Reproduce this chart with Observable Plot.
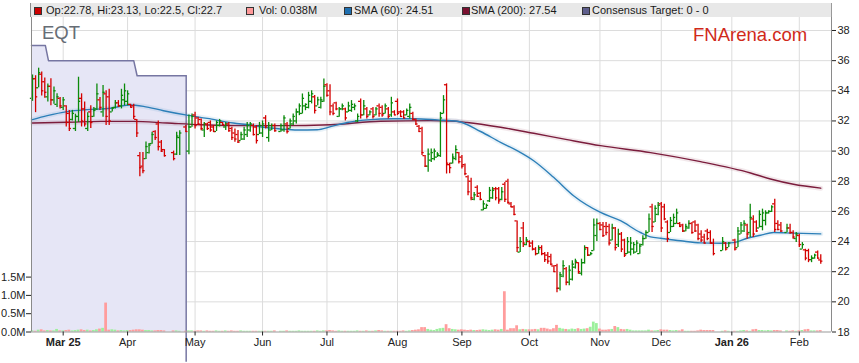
<!DOCTYPE html>
<html><head><meta charset="utf-8">
<script src="https://cdn.jsdelivr.net/npm/d3@7"></script>
<script src="https://cdn.jsdelivr.net/npm/@observablehq/plot@0.6"></script>
<style>
html,body{margin:0;padding:0;background:#fff;}
#wrap{position:relative;width:859px;height:363px;font-family:"Liberation Sans",Arial,sans-serif;overflow:hidden;}
#wrap svg{position:absolute;left:0;top:0;}
.band{position:absolute;left:30px;top:3px;width:800px;height:14px;background:#e8e8e8;border-left:1px solid #8a8a8a;border-right:1px solid #9a9a9a;}
.lg{position:absolute;top:3px;height:14px;line-height:14px;font-size:11px;color:#1a1a1a;white-space:nowrap;}
.sw{position:absolute;top:6.5px;width:6px;height:6px;border:1px solid #333;}
.ttl{position:absolute;font-size:18.5px;line-height:19px;white-space:nowrap;}
</style></head>
<body><div id="wrap"></div>
<script>
// Weekday index 0 = Mon 17 Feb 2025 (ASX: EQT). null = exchange holiday.
const open = [
33.5,34.8,34.2,35.1,34.6,33.6,34.3,33.4,33.1,33.5,
32.9,33.0,32.5,32.1,31.5,32.3,33.5,32.8,31.5,32.6,
32.3,32.8,33.4,32.6,33.8,33.6,32.6,32.9,33.2,33.0,
33.4,33.3,33.1,33.0,32.1,29.7,29.0,29.5,29.9,30.5,
31.3,31.8,30.6,30.1,null,null,29.9,29.8,30.9,null,
31.6,30.0,31.6,32.4,32.2,32.1,31.4,31.8,31.9,31.6,
31.3,31.7,31.9,31.6,31.8,31.5,31.2,31.1,30.7,30.8,
31.1,31.4,31.7,31.6,31.1,31.2,32.2,30.9,31.4,31.7,
null,31.3,31.4,31.8,31.5,31.8,32.0,32.6,32.5,33.0,
32.9,33.3,33.6,33.0,32.9,33.3,34.4,34.0,33.0,33.2,
32.3,32.8,32.8,32.6,32.7,32.9,32.0,33.3,32.4,32.8,
32.4,32.8,32.4,33.0,32.9,32.5,32.8,32.4,32.6,33.3,
32.6,32.6,32.4,32.3,32.5,32.1,31.65,31.5,29.7,29.0,
29.4,29.5,29.6,29.7,32.5,34.4,29.1,29.2,29.5,29.9,
29.6,29.1,28.3,28.0,26.8,27.6,27.2,26.1,26.2,26.7,
26.9,27.5,27.5,26.8,27.8,28.0,26.5,26.3,25.37,23.3,
24.9,23.8,24.0,23.9,23.5,23.2,23.6,23.2,23.1,23.0,
22.38,22.4,20.9,21.7,22.2,21.3,21.5,22.3,22.6,21.9,
22.6,23.6,23.1,23.4,24.4,25.2,25.1,25.0,25.0,24.1,
24.9,23.8,24.5,24.1,23.2,23.3,23.5,23.3,23.2,23.8,
24.2,24.6,26.3,25.3,25.8,26.5,26.3,25.3,24.6,25.0,
25.2,25.2,25.1,24.7,24.9,25.2,25.3,25.1,24.5,24.3,
24.7,24.6,23.9,null,null,23.4,23.9,23.6,null,24.1,
23.6,24.5,24.7,25.1,24.6,25.5,25.3,24.9,25.0,25.4,
25.9,26.0,26.5,25.2,25.1,null,24.6,24.9,24.6,24.2,
24.4,23.5,23.45,23.4,22.8,22.9,23.3,22.78];
const high = [
35.05,35.0,35.5,35.25,34.85,34.45,34.8,34.25,33.8,33.55,
33.55,33.0,32.7,32.7,32.45,34.9,33.8,33.25,32.55,33.0,
32.9,34.45,33.55,34.35,34.0,34.1,32.9,33.35,33.35,34.1,
34.45,34.0,33.1,33.1,32.1,29.9,29.9,30.6,30.5,31.25,
31.35,32.0,30.7,30.1,null,null,30.0,31.25,31.35,null,
31.7,32.4,32.46,32.57,32.25,32.13,31.9,31.85,32.0,31.7,
32.0,32.1,31.9,31.9,31.9,31.58,31.47,31.36,31.25,31.58,
31.9,31.9,31.8,31.7,31.9,32.0,32.35,31.9,31.8,31.8,
null,31.8,32.35,31.9,32.13,32.46,32.8,33.13,33.79,33.13,
33.9,34.0,33.68,33.57,33.57,34.79,34.46,34.4,33.13,33.24,
32.9,33.13,32.85,33.24,33.35,33.13,32.46,33.46,33.35,32.9,
32.68,32.9,32.9,33.13,33.0,33.13,32.9,33.57,32.68,33.46,
32.68,32.68,32.8,33.13,32.57,32.13,31.69,31.58,29.7,30.14,
30.14,30.14,29.9,32.57,33.68,34.46,29.2,29.8,30.36,29.9,
29.7,29.14,28.36,28.2,27.26,27.7,27.26,26.7,26.48,27.59,
27.59,27.59,27.59,27.59,27.92,28.14,26.59,26.37,25.37,24.27,
25.26,24.27,24.05,24.05,23.6,23.72,23.72,23.27,23.27,23.16,
22.4,22.5,21.94,22.72,22.28,22.39,22.72,22.83,22.6,22.83,
23.72,23.6,23.27,25.5,25.5,25.26,25.26,25.26,25.15,25.15,
24.93,24.82,24.6,24.16,24.27,24.27,23.93,24.05,23.83,24.38,
24.71,25.82,26.48,26.37,26.59,26.59,26.48,25.38,25.6,25.82,
26.15,25.26,25.15,25.15,25.38,25.26,25.38,25.15,24.71,24.49,
24.82,24.71,24.16,null,null,24.27,23.93,23.93,null,24.16,
24.93,25.26,25.38,25.15,26.48,25.71,25.38,26.04,26.15,26.04,
26.04,26.37,26.81,25.38,25.26,null,25.15,25.15,24.71,24.6,
24.49,23.93,23.49,23.49,23.05,23.16,23.38,23.13];
const low = [
33.3,32.55,34.2,33.65,33.5,33.25,33.0,33.1,32.9,32.8,
32.7,31.6,31.3,32.0,31.3,31.9,31.6,31.6,31.3,31.5,
32.25,32.7,32.7,32.25,31.7,31.7,32.6,32.8,32.9,32.8,
33.0,33.0,32.9,32.1,30.9,28.3,28.5,29.45,29.8,30.45,
30.7,30.0,29.9,29.6,null,null,29.35,29.7,29.7,null,
31.25,29.75,31.58,31.47,31.7,31.35,30.9,31.36,31.25,31.25,
31.3,31.6,31.7,31.36,31.25,30.7,30.58,30.5,30.7,30.7,
30.9,31.25,31.0,30.47,31.1,30.9,31.47,30.58,31.36,31.25,
null,31.25,31.25,31.13,31.47,31.69,31.8,32.35,32.46,32.68,
32.8,33.13,32.46,33.0,32.8,33.24,33.57,32.35,32.35,32.68,
32.24,32.68,32.0,32.57,32.57,32.68,31.9,32.13,32.35,32.13,
32.35,32.13,32.35,32.24,32.24,32.46,32.13,32.24,32.35,32.35,
32.24,32.13,32.35,32.13,32.02,31.69,31.25,29.7,28.92,28.59,
29.25,29.36,29.58,29.58,32.46,28.48,28.5,29.14,29.36,29.14,
28.81,28.36,27.04,26.7,26.7,26.93,26.7,26.04,26.15,26.59,
26.8,26.7,26.48,26.7,26.59,26.48,26.26,25.71,23.27,23.27,
23.6,23.72,23.6,23.38,23.05,23.16,23.05,22.61,22.5,22.39,
21.94,20.61,20.72,21.6,21.06,21.06,21.39,22.17,21.83,21.72,
22.5,23.0,23.05,23.38,24.0,24.71,24.27,24.38,23.71,24.05,
23.38,23.6,23.27,22.94,23.16,23.05,23.16,23.27,23.16,23.71,
24.16,24.6,24.6,25.26,25.71,24.6,25.38,23.93,24.6,24.93,
25.15,24.93,24.6,24.65,24.82,24.49,24.6,24.05,23.93,23.83,
24.05,23.83,23.05,null,null,23.38,23.38,23.6,null,23.38,
23.6,24.49,24.6,24.16,24.27,24.27,24.6,24.9,24.71,25.04,
25.82,25.93,24.6,24.71,24.6,null,24.6,24.49,24.16,23.93,
23.6,23.49,22.72,22.6,22.6,22.83,22.83,22.5];
const close = [
34.8,33.6,35.2,34.0,33.9,34.3,33.4,34.0,33.6,33.0,
33.4,31.9,31.5,32.5,32.3,33.3,32.0,31.8,32.3,31.9,
32.7,33.8,32.9,33.9,32.3,32.0,32.85,33.2,33.0,33.7,
34.0,33.8,32.9,32.3,31.2,28.9,28.7,30.3,30.4,31.1,
30.9,30.3,30.0,29.7,null,null,29.5,31.0,31.2,null,
31.3,31.6,32.3,31.7,31.8,31.5,31.8,31.5,31.4,31.3,
31.9,32.0,31.75,31.8,31.35,30.9,30.8,30.6,31.1,31.4,
31.7,31.8,31.1,30.7,31.7,31.8,31.6,31.7,31.7,31.35,
null,31.7,32.2,31.3,32.0,32.3,32.6,33.0,33.5,33.1,
33.7,33.8,32.7,33.4,33.4,34.3,33.7,32.6,32.5,32.8,
32.8,33.0,32.2,33.0,33.1,33.0,32.3,32.4,33.0,32.3,
32.6,32.3,32.8,32.5,32.4,33.0,32.3,33.2,32.4,32.5,
32.3,32.2,32.7,32.9,32.1,31.8,31.3,29.9,29.0,29.8,
29.9,30.0,29.8,32.2,33.4,29.2,28.9,29.6,30.1,29.3,
29.0,28.5,27.3,26.9,27.1,27.0,26.8,26.5,26.4,27.4,
27.4,26.9,26.7,27.3,26.8,26.6,26.3,25.8,23.6,24.0,
23.9,24.1,23.7,23.5,23.2,23.5,23.2,22.8,22.7,22.5,
22.0,20.9,21.8,22.4,21.3,22.1,22.5,22.7,22.0,22.6,
23.5,23.1,23.2,25.1,25.2,24.8,24.4,24.6,23.9,24.9,
23.6,24.5,23.5,23.1,24.0,23.9,23.8,23.9,23.7,24.2,
24.6,25.5,25.0,26.2,26.4,24.9,25.5,24.2,25.4,25.6,
25.9,25.0,24.7,25.0,25.2,24.6,24.7,24.2,24.1,23.9,
24.2,23.9,23.2,null,null,24.0,23.5,23.9,null,23.5,
24.7,25.1,25.2,24.5,25.6,24.5,24.7,25.8,25.9,25.9,
26.0,26.3,24.8,24.8,24.7,null,24.9,24.6,24.3,24.5,
23.8,23.8,22.9,22.8,22.9,23.1,22.9,22.7];
// volume, millions of shares
const volume = [
0.03,0.02,0.05,0.06,0.03,0.04,0.03,0.03,0.07,0.03,
0.03,0.04,0.05,0.03,0.04,0.05,0.06,0.04,0.05,0.03,0.04,0.06,0.08,0.10,0.79,0.05,0.06,0.05,0.03,0.04,0.03,
0.04,0.04,0.05,0.06,0.06,0.05,0.04,0.04,0.03,0.03,0.04,0.04,0.03,null,null,0.03,0.03,0.02,null,0.02,0.03,0.03,
0.02,0.03,0.03,0.02,0.03,0.02,0.02,0.03,0.02,0.02,0.03,0.02,0.03,0.02,0.02,0.03,0.02,0.02,0.02,0.02,0.02,0.02,
0.02,0.02,0.02,0.02,0.03,null,0.02,0.02,0.03,0.02,0.02,0.02,0.03,0.02,0.02,0.02,0.02,0.02,0.03,0.02,0.03,
0.03,0.04,0.03,0.02,0.03,0.02,0.02,0.02,0.02,0.02,0.03,0.02,0.02,0.03,0.02,0.02,0.03,0.04,0.03,0.02,0.02,0.02,0.02,
0.02,0.02,0.03,0.02,0.03,0.04,0.05,0.06,0.12,0.12,0.07,0.05,0.04,0.07,0.09,0.10,0.20,0.09,0.07,0.06,0.05,
0.06,0.05,0.04,0.05,0.04,0.04,0.05,0.06,0.05,0.04,0.05,0.06,0.05,0.07,1.10,0.05,0.09,0.09,0.17,0.06,0.07,0.06,
0.06,0.06,0.07,0.06,0.10,0.10,0.08,0.06,0.09,0.18,0.10,0.08,0.07,0.06,0.08,0.07,0.09,0.07,0.08,0.09,0.13,0.27,0.23,
0.08,0.05,0.05,0.06,0.07,0.15,0.12,0.07,0.06,0.07,0.05,0.03,0.03,0.03,0.03,0.03,0.05,0.03,0.03,0.04,
0.06,0.05,0.05,0.04,0.03,0.04,0.03,0.06,0.02,0.02,0.02,0.02,0.03,0.05,0.04,0.04,0.04,0.04,null,null,0.02,0.03,0.02,
null,0.02,0.02,0.03,0.04,0.03,0.02,0.06,0.07,0.04,0.04,0.03,0.04,0.03,0.04,0.04,0.03,null,0.03,0.02,0.03,0.02,
0.03,0.04,0.06,0.07,0.03,0.03,0.03,0.038];
const sma60Idx = [0,4.8,11.3,17.8,25.4,31.4,36.2,42.7,49.9,57,65.5,71.1,75.3,80.9,86.3,92.8,97.2,102.6,109.1,117.7,124.2,132,138.5,146.1,152.6,158,163.4,169.9,176.4,185.2,191.7,198.2,201.5,204.8,211.3,217.8,224.3,228.6,233,237.4,241.6,248.1,257];
const sma60Val = [32.09,32.35,32.62,32.75,32.84,33.06,32.97,32.68,32.4,32.17,31.86,31.73,31.58,31.47,31.4,31.42,31.62,31.9,32.07,32.15,32.15,32.07,31.98,31.3,30.58,30.03,29.36,28.26,27.04,25.93,25.38,24.6,24.31,24.22,24.05,23.91,23.89,23.93,24.22,24.42,24.6,24.56,24.51];
const sma200Idx = [0,11.3,22.2,32.9,43.9,54.8,71.1,80.9,97.2,113.5,129.8,136.3,141.7,152.6,163.4,174.3,185.2,201.5,217.8,234.1,240.6,248.1,257];
const sma200Val = [31.86,31.91,31.97,31.97,31.86,31.75,31.69,31.69,31.75,31.98,32.02,32.0,31.9,31.58,31.18,30.76,30.36,29.9,29.3,28.55,28.15,27.8,27.54];
const targetIdx = [-0.33,4.2,5.2,33.0,34.1,50.1];
const targetVal = [37,37,36,36,35,35];
const priceTicks = [18,20,22,24,26,28,30,32,34,36,38];
const volTicks = [0,0.5,1.0,1.5];
const monthIdx = [10,31,53,75,96,119,140,162,185,205,228,250];
const monthLab = ["Mar 25","Apr","May","Jun","Jul","Aug","Sep","Oct","Nov","Dec","Jan 26","Feb"];

const X0 = -0.33, X1 = 260.5, Y0 = 18, Y1 = 38.862;
const K = 2.428; // price units per 1M shares (volume panel shares the price axis)
const vy = v => Y0 + v * K;
const UP = "#0b8a0b", DN = "#d40000";

const rows = open.map((o,i)=> o==null ? null : {i, o, h: high[i], l: low[i], c: close[i]}).filter(Boolean);
const upRows = rows.filter(d => d.c >= d.o), dnRows = rows.filter(d => d.c < d.o);
const vrows = volume.map((v,i)=> v==null ? null : {i, v, up: close[i] >= open[i]}).filter(Boolean);
const sma60 = sma60Idx.map((i,k)=>({i, v: sma60Val[k]}));
const sma200 = sma200Idx.map((i,k)=>({i, v: sma200Val[k]}));
const target = targetIdx.map((i,k)=>({i, v: targetVal[k]}));
const lastT = target[target.length-1];

function ohlc(data, color){
  return [
    Plot.ruleX(data, {x:"i", y1:"l", y2:"h", stroke: color, strokeWidth: 1.3}),
    Plot.ruleY(data, {y:"o", x1: d => d.i - 0.7, x2: "i", stroke: color, strokeWidth: 1.3}),
    Plot.ruleY(data, {y:"c", x1: "i", x2: d => d.i + 0.7, stroke: color, strokeWidth: 1.3})
  ];
}
const labelOf = d => monthLab[monthIdx.indexOf(d)];
const boldIdx = monthIdx.filter((d,k) => /\d/.test(monthLab[k]));
const normIdx = monthIdx.filter((d,k) => !/\d/.test(monthLab[k]));

const chart = Plot.plot({
  width: 859, height: 363,
  marginLeft: 31, marginRight: 28, marginTop: 17, marginBottom: 31.5,
  x: {domain: [X0, X1], axis: null},
  y: {domain: [Y0, Y1], axis: null},
  style: {fontFamily: "Liberation Sans, Arial, sans-serif", fontSize: "11px", background: "transparent", overflow: "visible", color: "#1a1a1a"},
  marks: [
    Plot.ruleY(priceTicks.filter(p => p > Y0), {stroke: "#dcdcdc"}),
    Plot.ruleX(monthIdx, {y1: Y0, y2: Y1, stroke: "#dcdcdc"}),
    Plot.areaY(target, {x: "i", y1: Y0, y2: "v", fill: "#e6e6f6", curve: "linear"}),
    Plot.line(target, {x: "i", y: "v", stroke: "#7676a2", strokeWidth: 1.5, curve: "linear"}),
    Plot.ruleX([lastT], {x: "i", y1: "v", y2: 16, stroke: "#7676a2", strokeWidth: 1.5}),
    Plot.rect(vrows.filter(d => d.up), {x1: d => d.i - 0.45, x2: d => d.i + 0.45, y1: Y0, y2: d => vy(d.v), fill: "#9cf09c"}),
    Plot.rect(vrows.filter(d => !d.up), {x1: d => d.i - 0.45, x2: d => d.i + 0.45, y1: Y0, y2: d => vy(d.v), fill: "#ff9d9d"}),
    Plot.line(sma200, {x: "i", y: "v", stroke: "#7b1c3c", strokeOpacity: 0.1, strokeWidth: 5, curve: "monotone-x"}),
    Plot.line(sma200, {x: "i", y: "v", stroke: "#7b1c3c", strokeWidth: 1.4, curve: "monotone-x"}),
    Plot.line(sma60, {x: "i", y: "v", stroke: "#2c7fb8", strokeOpacity: 0.1, strokeWidth: 5, curve: "monotone-x"}),
    Plot.line(sma60, {x: "i", y: "v", stroke: "#2c7fb8", strokeWidth: 1.4, curve: "monotone-x"}),
    ...ohlc(upRows, UP),
    ...ohlc(dnRows, DN),
    Plot.ruleY([Y0], {stroke: "#999"}),
    Plot.ruleX([X0], {stroke: "#8a8a8a"}),
    Plot.ruleX([X1], {stroke: "#8a8a8a"}),
    Plot.axisY({anchor: "right", ticks: priceTicks, tickSize: 4, tickPadding: 2, fontSize: 11, label: null, color: "#222"}),
    Plot.axisY({anchor: "left", ticks: volTicks.map(vy), tickFormat: d => ((d - Y0) / K).toFixed(1) + "M", tickSize: 5, tickPadding: 1, fontSize: 11, label: null, color: "#222"}),
    Plot.axisX({ticks: normIdx, tickFormat: labelOf, tickSize: 4, tickPadding: 2, fontSize: 11, label: null, color: "#222"}),
    Plot.axisX({ticks: boldIdx, tickFormat: labelOf, tickSize: 4, tickPadding: 2, fontSize: 11, fontWeight: "bold", label: null, color: "#222"})
  ]
});
const wrap = document.getElementById("wrap");
wrap.appendChild(chart);

const band = document.createElement("div"); band.className = "band"; wrap.appendChild(band);
const L = open.length - 1;
const legend = [
  {x: 34, color: "#cc0000", text: `Op:${open[L]}, Hi:${high[L]}, Lo:${low[L]}, Cl:${close[L]}`, tx: 46},
  {x: 246, color: "#ff9999", text: `Vol: ${volume[L]}M`, tx: 259},
  {x: 343.5, color: "#1e6fb0", text: `SMA (60): ${sma60Val[sma60Val.length-1]}`, tx: 354},
  {x: 462, color: "#7a1030", text: `SMA (200): ${sma200Val[sma200Val.length-1]}`, tx: 471},
  {x: 582, color: "#5e5e8c", text: "Consensus Target: 0 - 0", tx: 592}
];
for (const it of legend) {
  const s = document.createElement("div"); s.className = "sw";
  s.style.left = it.x + "px"; s.style.background = it.color; wrap.appendChild(s);
  const t = document.createElement("div"); t.className = "lg";
  t.style.left = it.tx + "px"; t.textContent = it.text; wrap.appendChild(t);
}
const t1 = document.createElement("div"); t1.className = "ttl";
t1.style.left = "42px"; t1.style.top = "23px"; t1.style.color = "#666d75"; t1.textContent = "EQT"; wrap.appendChild(t1);
const t2 = document.createElement("div"); t2.className = "ttl";
t2.style.left = "693px"; t2.style.top = "24.5px"; t2.style.color = "#d02a1a"; t2.textContent = "FNArena.com"; wrap.appendChild(t2);
</script>
</body></html>
